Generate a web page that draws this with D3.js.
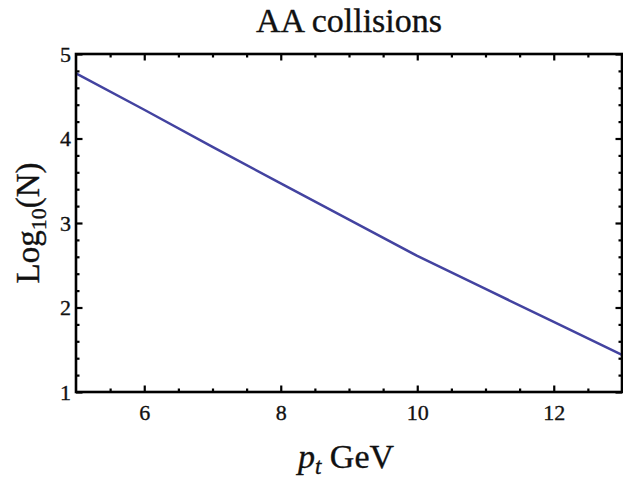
<!DOCTYPE html>
<html>
<head>
<meta charset="utf-8">
<script src="https://cdn.jsdelivr.net/npm/d3@7"></script>
<style>
  html, body { margin: 0; padding: 0; background: #fff; }
  svg { display: block; }
  text { font-family: "Liberation Serif", "Times New Roman", serif; fill: #111; stroke: #111; stroke-width: 0.35px; }
</style>
</head>
<body>
<script>
// ---- data ----
const ptValues  = [5, 6, 7, 8, 9, 10, 11, 12, 13];
const logNValues = [4.77, 4.34, 3.90, 3.47, 3.04, 2.61, 2.22, 1.83, 1.44];
const xMajorTicks = [6, 8, 10, 12];
const xMinorTicks = [5.5, 6.5, 7, 7.5, 8.5, 9, 9.5, 10.5, 11, 11.5, 12.5];
const yMajorTicks = [1, 2, 3, 4, 5];
const yMinorTicks = [1.2, 1.4, 1.6, 1.8, 2.2, 2.4, 2.6, 2.8, 3.2, 3.4, 3.6, 3.8, 4.2, 4.4, 4.6, 4.8];
const titleText = "AA collisions";

// ---- layout ----
const W = 623, H = 480;
const pLeft = 76, pRight = 622, pTop = 54, pBottom = 392;
const serif = '"Liberation Serif", "Times New Roman", serif';

const svg = d3.select("body").append("svg").attr("width", W).attr("height", H);

const x = d3.scaleLinear().domain([5, 13]).range([pLeft, pRight]);
const y = d3.scaleLinear().domain([1, 5]).range([pBottom, pTop]);

function styleAxis(g) {
  g.attr("font-family", serif).attr("font-size", 22);
  g.select(".domain").remove();
  g.selectAll(".tick line").attr("stroke", "#000").attr("stroke-width", 2.2);
}

// minor ticks
svg.append("g").attr("transform", `translate(0,${pBottom})`)
  .call(d3.axisBottom(x).tickValues(xMinorTicks).tickSize(-3.5).tickFormat(""))
  .call(styleAxis);
svg.append("g").attr("transform", `translate(0,${pTop})`)
  .call(d3.axisTop(x).tickValues(xMinorTicks).tickSize(-3.5).tickFormat(""))
  .call(styleAxis);
svg.append("g").attr("transform", `translate(${pLeft},0)`)
  .call(d3.axisLeft(y).tickValues(yMinorTicks).tickSize(-3.5).tickFormat(""))
  .call(styleAxis);
svg.append("g").attr("transform", `translate(${pRight},0)`)
  .call(d3.axisRight(y).tickValues(yMinorTicks).tickSize(-3.5).tickFormat(""))
  .call(styleAxis);

// major ticks with labels
const gx = svg.append("g").attr("transform", `translate(0,${pBottom})`)
  .call(d3.axisBottom(x).tickValues(xMajorTicks).tickSize(-6.5).tickFormat(d3.format("d")))
  .call(styleAxis);
gx.selectAll(".tick text").attr("y", 28).attr("dy", 0).attr("fill", "#111");

svg.append("g").attr("transform", `translate(0,${pTop})`)
  .call(d3.axisTop(x).tickValues(xMajorTicks).tickSize(-6.5).tickFormat(""))
  .call(styleAxis);

const gy = svg.append("g").attr("transform", `translate(${pLeft},0)`)
  .call(d3.axisLeft(y).tickValues(yMajorTicks).tickSize(-6.5).tickFormat(d3.format("d")))
  .call(styleAxis);
gy.selectAll(".tick text").attr("x", -5).attr("dy", "0.34em").attr("fill", "#111");

svg.append("g").attr("transform", `translate(${pRight},0)`)
  .call(d3.axisRight(y).tickValues(yMajorTicks).tickSize(-6.5).tickFormat(""))
  .call(styleAxis);

// data line
const pts = ptValues.map((v, i) => [v, logNValues[i]]);
svg.append("path")
  .datum(pts)
  .attr("fill", "none")
  .attr("stroke", "#4343a0")
  .attr("stroke-width", 2.5)
  .attr("stroke-linejoin", "round")
  .attr("d", d3.line().x(d => x(d[0])).y(d => y(d[1])));

// frame
svg.append("rect")
  .attr("x", pLeft).attr("y", pTop)
  .attr("width", pRight - pLeft).attr("height", pBottom - pTop)
  .attr("fill", "none").attr("stroke", "#000").attr("stroke-width", 2.6);

// title
svg.append("text")
  .attr("x", (pLeft + pRight) / 2).attr("y", 32)
  .attr("text-anchor", "middle")
  .style("font-size", "34px")
  .text(titleText);

// x label
const xl = svg.append("text")
  .attr("x", (pLeft + pRight) / 2 - 3).attr("y", 468)
  .attr("text-anchor", "middle")
  .style("font-size", "34px");
xl.append("tspan").style("font-style", "italic").text("p");
xl.append("tspan").style("font-style", "italic").style("font-size", "23px").attr("dy", 6).text("t");
xl.append("tspan").attr("dy", -6).text(" GeV");

// y label
const yl = svg.append("text")
  .attr("transform", `translate(39,${(pTop + pBottom) / 2}) rotate(-90)`)
  .attr("text-anchor", "middle")
  .style("font-size", "33px");
yl.append("tspan").text("Log");
yl.append("tspan").style("font-size", "22px").attr("dy", 7).text("10");
yl.append("tspan").attr("dy", -7).text("(N)");
</script>
</body>
</html>
